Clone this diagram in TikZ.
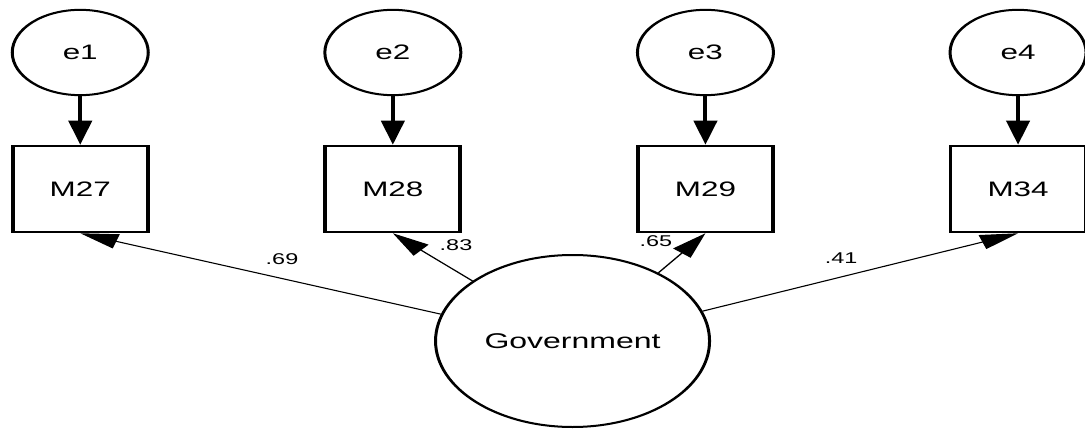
\documentclass[tikz,border=0pt]{standalone}
\usepackage{fontspec}
\setmainfont{Liberation Sans}
\usetikzlibrary{arrows.meta,shapes.geometric}
\begin{document}
\begin{tikzpicture}[x=0.75pt,y=-0.75pt,
  errvar/.style={ellipse,draw,line width=1.5pt,minimum width=68pt,minimum height=64pt,
    inner sep=0pt,font=\fontsize{15.7}{18}\selectfont},
  obsvar/.style={rectangle,draw,line width=1.9pt,minimum width=67.5pt,minimum height=64.5pt,
    inner sep=0pt,font=\fontsize{15.7}{18}\selectfont},
  latvar/.style={ellipse,draw,line width=1.5pt,minimum width=137pt,minimum height=129pt,
    inner sep=0pt,font=\fontsize{16}{18}\selectfont},
  errpath/.style={line width=2pt,-{Triangle[length=18pt,width=11.5pt]}},
  loadpath/.style={line width=0.8pt,-{Triangle[length=19pt,width=11pt]}},
  coef/.style={font=\fontsize{11.7}{13}\selectfont,inner sep=0pt}]
\useasboundingbox[fill=white] (0,0) rectangle (1085,431);
\begin{scope}[transform canvas={xscale=1.5}]
  % error terms
  \node[errvar] (e1) at (53.5,52.5) {e1};
  \node[errvar] (e2) at (261.9,52.5) {e2};
  \node[errvar] (e3) at (470.3,52.5) {e3};
  \node[errvar] (e4) at (678.7,52.5) {e4};
  % observed indicators
  \node[obsvar] (m27) at (53.5,189) {M27};
  \node[obsvar] (m28) at (261.9,189) {M28};
  \node[obsvar] (m29) at (470.3,189) {M29};
  \node[obsvar] (m34) at (678.7,189) {M34};
  % latent factor
  \node[latvar] (gov) at (381.7,341) {Government};
  % error paths
  \draw[errpath] (e1.south) -- (m27.north);
  \draw[errpath] (e2.south) -- (m28.north);
  \draw[errpath] (e3.south) -- (m29.north);
  \draw[errpath] (e4.south) -- (m34.north);
  % factor loadings
  \draw[loadpath] (gov.163) -- (m27.south);
  \draw[loadpath] (gov.138) -- (m28.south);
  \draw[loadpath] (gov.50) -- (m29.south);
  \draw[loadpath] (gov.19) -- (m34.south);
  \node[coef] (l1) at (188,259) {.69};
  \node[coef] (l2) at (304,245) {.83};
  \node[coef] (l3) at (437.3,241) {.65};
  \node[coef] (l4) at (560.7,258.5) {.41};
\end{scope}
\end{tikzpicture}
\end{document}
